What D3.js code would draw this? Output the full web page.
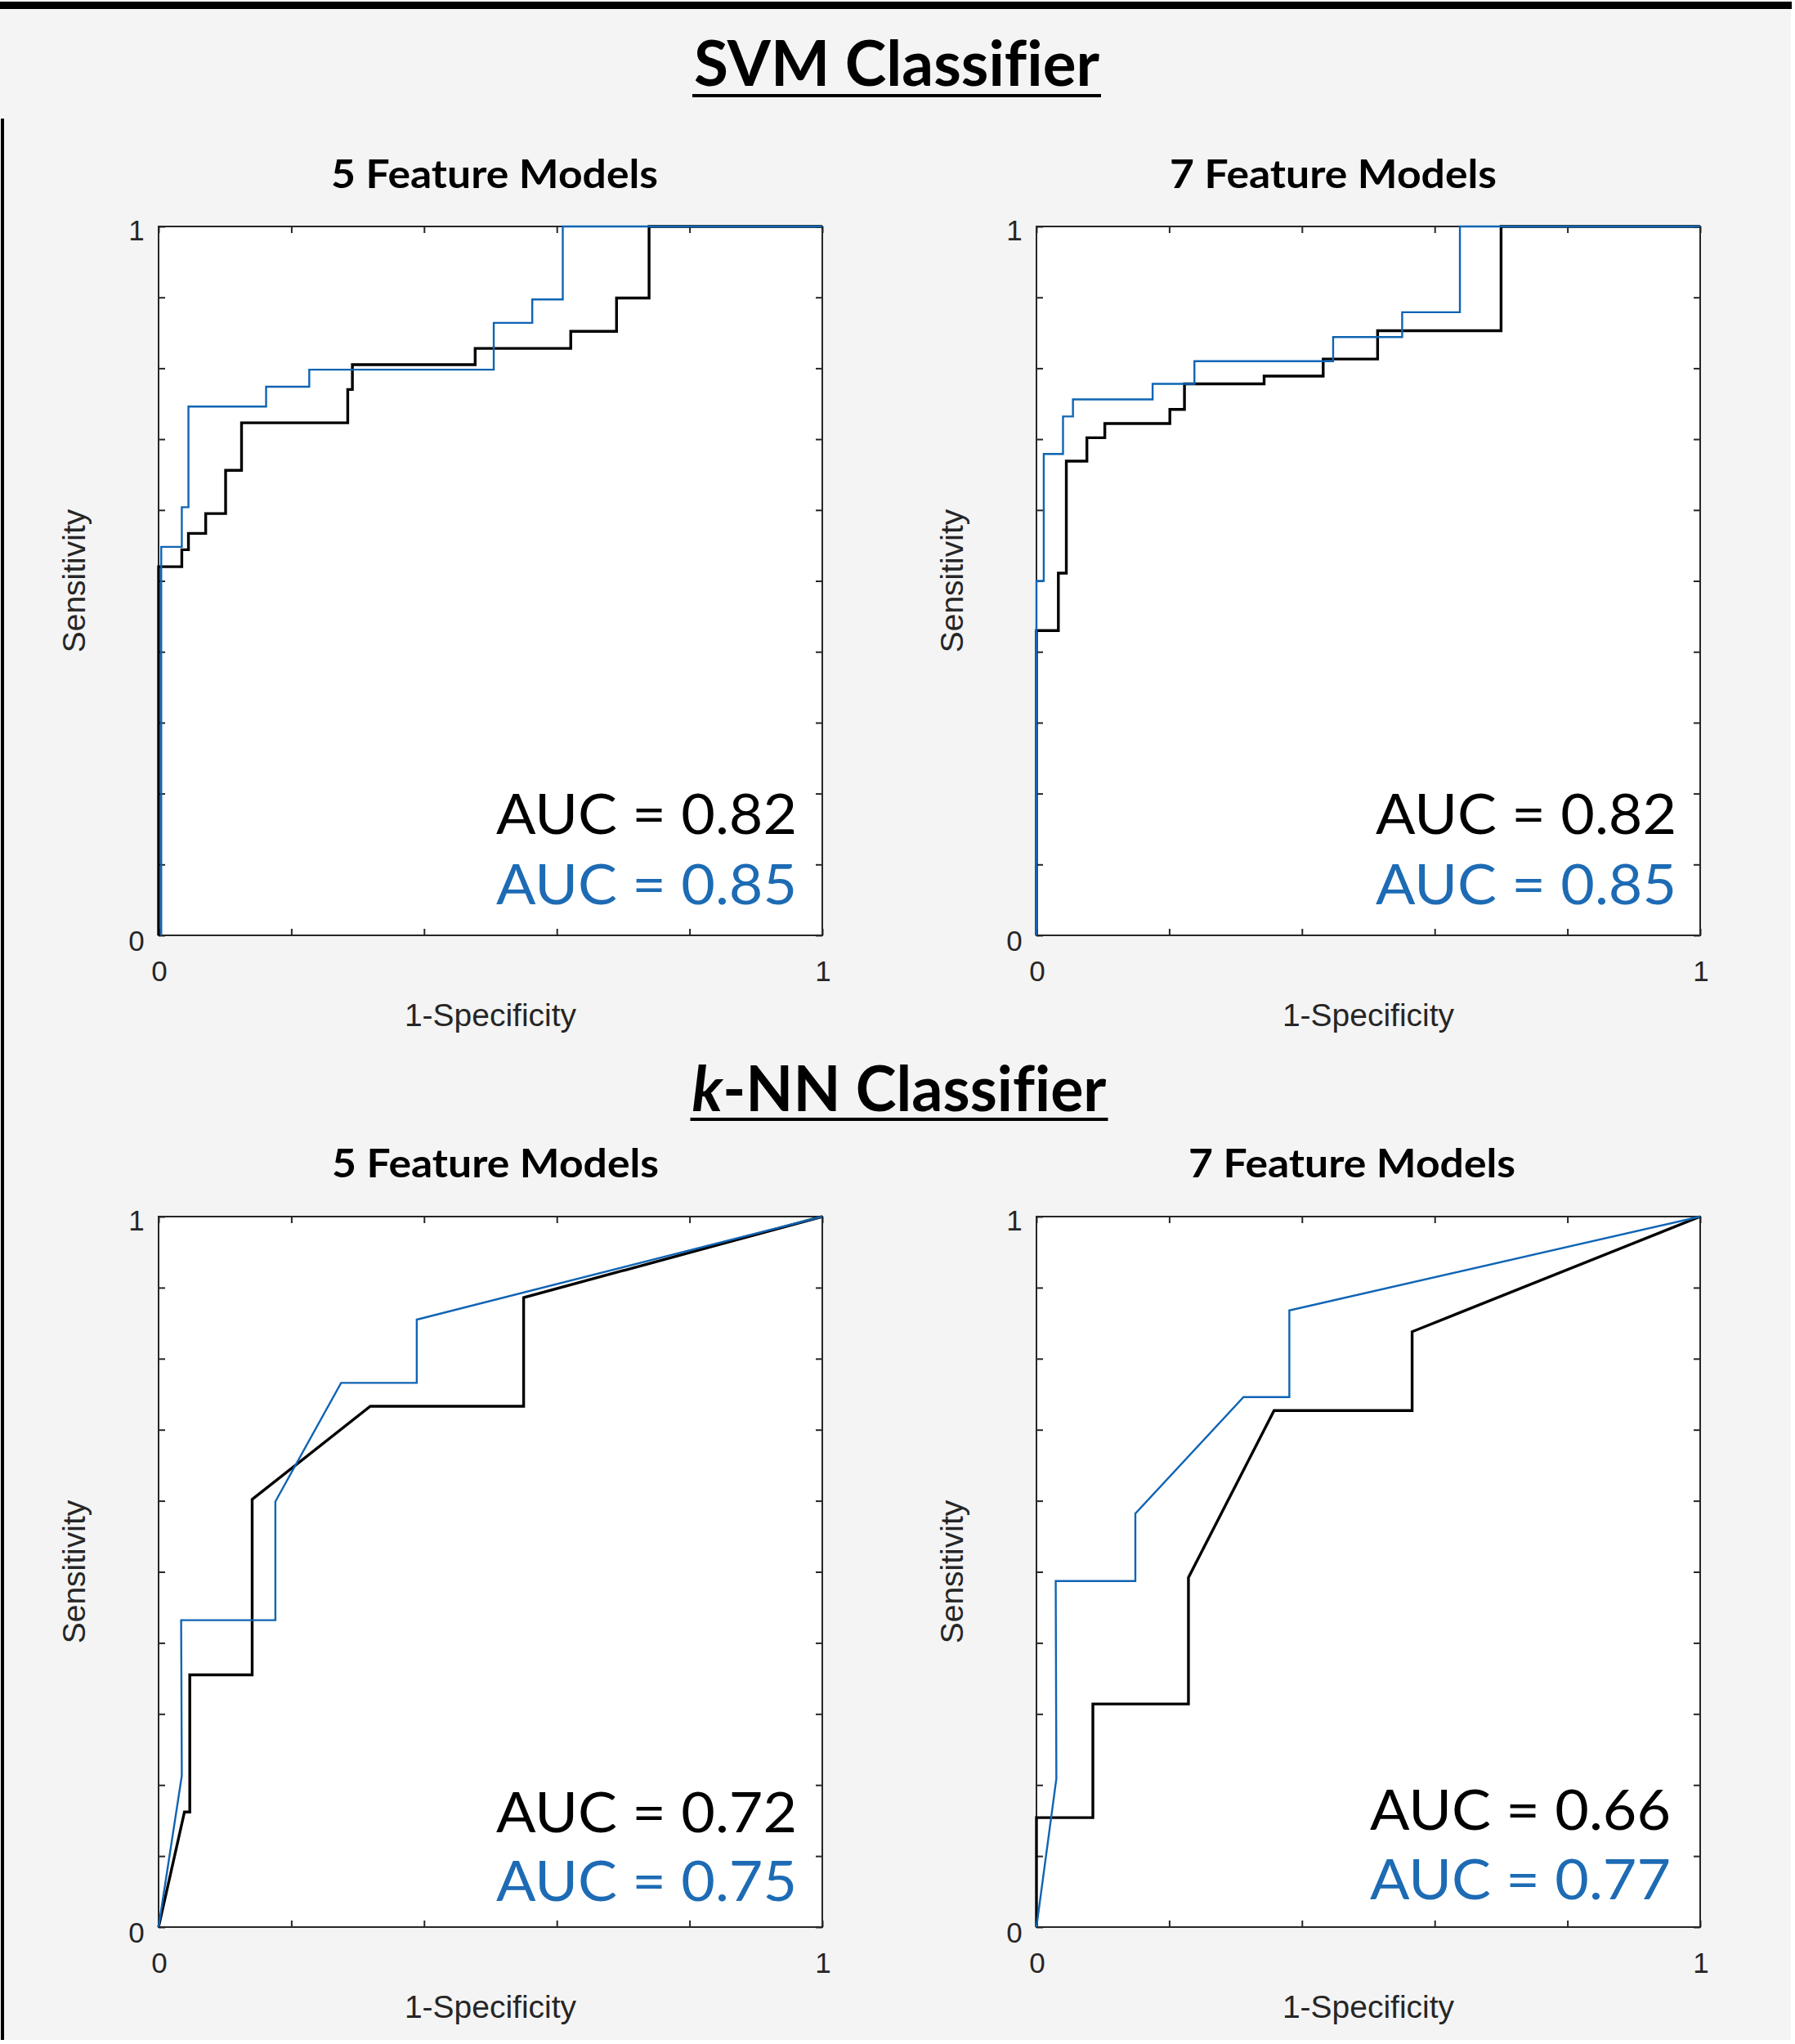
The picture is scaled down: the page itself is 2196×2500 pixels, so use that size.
<!DOCTYPE html>
<html>
<head>
<meta charset="utf-8">
<script src="https://cdn.jsdelivr.net/npm/d3@7"></script>
<style>
html,body{margin:0;padding:0;background:#fff;}
svg{display:block;}
text{font-variant-ligatures:none;font-feature-settings:"liga" 0,"clig" 0;}
</style>
</head>
<body>
<script>
// ---------------- DATA ----------------
const sectionTitles = ["SVM Classifier", "k-NN Classifier"];
const panelTitles = ["5 Feature Models", "7 Feature Models", "5 Feature Models", "7 Feature Models"];
const xTickValues = [0, 0.2, 0.4, 0.6, 0.8, 1];
const yTickValues = [0, 0.1, 0.2, 0.3, 0.4, 0.5, 0.6, 0.7, 0.8, 0.9, 1];
const tickLabels = ["0", "1"];
const xAxisLabel = "1-Specificity";
const yAxisLabel = "Sensitivity";
const aucBlack = ["0.82", "0.82", "0.72", "0.66"];
const aucBlue  = ["0.85", "0.85", "0.75", "0.77"];

// SVM, 5 features
const svm5BlackFpr = [0,0,0.035,0.035,0.045,0.045,0.071,0.071,0.101,0.101,0.125,0.125,0.285,0.285,0.292,0.292,0.477,0.477,0.621,0.621,0.69,0.69,0.739,0.739,1];
const svm5BlackTpr = [0,0.52,0.52,0.544,0.544,0.567,0.567,0.595,0.595,0.656,0.656,0.723,0.723,0.77,0.77,0.805,0.805,0.828,0.828,0.852,0.852,0.899,0.899,1,1];
const svm5BlueFpr  = [0.004,0.004,0.035,0.035,0.045,0.045,0.162,0.162,0.227,0.227,0.505,0.505,0.563,0.563,0.609,0.609,1];
const svm5BlueTpr  = [0,0.548,0.548,0.604,0.604,0.746,0.746,0.774,0.774,0.798,0.798,0.864,0.864,0.897,0.897,1,1];
// SVM, 7 features
const svm7BlackFpr = [0,0,0.033,0.033,0.045,0.045,0.076,0.076,0.103,0.103,0.201,0.201,0.223,0.223,0.343,0.343,0.432,0.432,0.514,0.514,0.7,0.7,1];
const svm7BlackTpr = [0,0.43,0.43,0.511,0.511,0.669,0.669,0.702,0.702,0.722,0.722,0.742,0.742,0.778,0.778,0.789,0.789,0.813,0.813,0.853,0.853,1,1];
const svm7BlueFpr  = [0,0,0.011,0.011,0.04,0.04,0.055,0.055,0.175,0.175,0.238,0.238,0.447,0.447,0.551,0.551,0.638,0.638,1];
const svm7BlueTpr  = [0,0.5,0.5,0.679,0.679,0.732,0.732,0.756,0.756,0.778,0.778,0.81,0.81,0.844,0.844,0.879,0.879,1,1];
// k-NN, 5 features
const knn5BlackFpr = [0,0.039,0.047,0.047,0.141,0.141,0.319,0.55,0.55,1];
const knn5BlackTpr = [0,0.162,0.162,0.355,0.355,0.602,0.733,0.733,0.886,1];
const knn5BlueFpr  = [0,0.035,0.034,0.176,0.176,0.275,0.389,0.389,1];
const knn5BlueTpr  = [0,0.213,0.432,0.432,0.599,0.766,0.766,0.855,1];
// k-NN, 7 features
const knn7BlackFpr = [0,0,0.085,0.085,0.229,0.229,0.358,0.566,0.566,1];
const knn7BlackTpr = [0,0.154,0.154,0.314,0.314,0.492,0.727,0.727,0.838,1];
const knn7BlueFpr  = [0,0.03,0.029,0.149,0.149,0.312,0.381,0.381,1];
const knn7BlueTpr  = [0,0.209,0.487,0.487,0.582,0.746,0.746,0.868,1];

// ---------------- LAYOUT ----------------
const W = 2196, H = 2500;
const BLACK = "#000000", BLUE = "#0f64b4", BLUE_TEXT = "#1d6bb4", AXIS = "#262626";

const layout = [
  {x0:194, x1:1006, y0:277, y1:1144, tx:605, ty:230, aucR:975, aucY1:1020, aucY2:1106},
  {x0:1268, x1:2080, y0:277, y1:1144, tx:1631, ty:230, aucR:2051, aucY1:1020, aucY2:1106},
  {x0:194, x1:1006, y0:1488, y1:2357, tx:606, ty:1440, aucR:975, aucY1:2241, aucY2:2325},
  {x0:1268, x1:2080, y0:1488, y1:2357, tx:1654, ty:1440, aucR:2044, aucY1:2238, aucY2:2323}
];
const curves = [
  [[svm5BlackFpr, svm5BlackTpr], [svm5BlueFpr, svm5BlueTpr]],
  [[svm7BlackFpr, svm7BlackTpr], [svm7BlueFpr, svm7BlueTpr]],
  [[knn5BlackFpr, knn5BlackTpr], [knn5BlueFpr, knn5BlueTpr]],
  [[knn7BlackFpr, knn7BlackTpr], [knn7BlueFpr, knn7BlueTpr]]
];

// break the "fi" ligature with a zero-width non-joiner
const noLig = s => s.replace(/fi/g, "f\u200Ci");

const svg = d3.select("body").append("svg").attr("width", W).attr("height", H);

svg.append("rect").attr("width", W).attr("height", H).attr("fill", "#ffffff");
svg.append("rect").attr("x", 0).attr("y", 0).attr("width", 2191).attr("height", 2495).attr("fill", "#f4f4f4");
svg.append("rect").attr("x", 0).attr("y", 2).attr("width", 2192).attr("height", 9).attr("fill", "#000");
svg.append("rect").attr("x", 1).attr("y", 145).attr("width", 4).attr("height", 2350).attr("fill", "#000");

// section titles
function sectionTitle(cx, baseline, width, underY, parts) {
  const t = svg.append("text").attr("x", cx).attr("y", baseline)
    .attr("text-anchor", "middle")
    .attr("font-family", "Lato, 'Open Sans', sans-serif").attr("font-weight", 700)
    .attr("font-size", 76).attr("fill", "#000")
    .attr("textLength", width).attr("lengthAdjust", "spacingAndGlyphs");
  parts.forEach(p => t.append("tspan").attr("font-style", p.italic ? "italic" : "normal").text(noLig(p.text)));
  svg.append("line").attr("x1", cx - width/2 - 2).attr("x2", cx + width/2 + 2)
    .attr("y1", underY).attr("y2", underY).attr("stroke", "#000").attr("stroke-width", 4);
}
sectionTitle(1097, 105, 496, 117, [{text: sectionTitles[0]}]);
sectionTitle(1100, 1359, 507, 1369, [{text: "k", italic: true}, {text: sectionTitles[1].slice(1)}]);

layout.forEach((L, i) => {
  const x = d3.scaleLinear().domain([0, 1]).range([L.x0, L.x1]);
  const y = d3.scaleLinear().domain([0, 1]).range([L.y1, L.y0]);
  const g = svg.append("g");

  // plot area
  g.append("rect").attr("x", L.x0).attr("y", L.y0).attr("width", L.x1 - L.x0).attr("height", L.y1 - L.y0)
    .attr("fill", "#ffffff");

  // ticks (inward, mirrored)
  const tickLen = 8;
  const axes = [
    {ax: d3.axisBottom(x).tickValues(xTickValues), tr: `translate(0,${L.y1})`},
    {ax: d3.axisTop(x).tickValues(xTickValues), tr: `translate(0,${L.y0})`},
    {ax: d3.axisLeft(y).tickValues(yTickValues), tr: `translate(${L.x0},0)`},
    {ax: d3.axisRight(y).tickValues(yTickValues), tr: `translate(${L.x1},0)`}
  ];
  axes.forEach(a => {
    const ag = g.append("g").attr("transform", a.tr)
      .call(a.ax.tickSize(-tickLen).tickFormat(""));
    ag.select(".domain").remove();
    ag.selectAll(".tick line").attr("stroke", AXIS).attr("stroke-width", 2);
  });

  // box
  g.append("rect").attr("x", L.x0).attr("y", L.y0).attr("width", L.x1 - L.x0).attr("height", L.y1 - L.y0)
    .attr("fill", "none").attr("stroke", AXIS).attr("stroke-width", 2);

  // tick labels
  const lab = {"font-family": "'Liberation Sans', Arial, sans-serif", "font-size": 35, "fill": AXIS};
  [0, 1].forEach((v, k) => {
    const t1 = g.append("text").attr("x", x(v) + 1).attr("y", L.y1 + 56).attr("text-anchor", "middle").text(tickLabels[k]);
    const t2 = g.append("text").attr("x", L.x0 - 27).attr("y", y(v) + (v === 0 ? 19 : 17)).attr("text-anchor", "middle").text(tickLabels[k]);
    [t1, t2].forEach(t => Object.entries(lab).forEach(([a, b]) => t.attr(a, b)));
  });

  // axis labels
  g.append("text").attr("x", (L.x0 + L.x1) / 2).attr("y", L.y1 + 111)
    .attr("text-anchor", "middle").attr("font-family", "'Liberation Sans', Arial, sans-serif")
    .attr("font-size", 39).attr("fill", AXIS).text(xAxisLabel);
  const yc = (L.y0 + L.y1) / 2;
  g.append("text").attr("transform", `translate(${L.x0 - 90},${yc}) rotate(-90)`)
    .attr("text-anchor", "middle").attr("font-family", "'Liberation Sans', Arial, sans-serif")
    .attr("font-size", 39).attr("fill", AXIS).text(yAxisLabel);

  // panel title
  g.append("text").attr("x", L.tx).attr("y", L.ty).attr("text-anchor", "middle")
    .attr("font-family", "Lato, 'Open Sans', sans-serif").attr("font-weight", 700)
    .attr("font-size", 48).attr("fill", "#000")
    .attr("textLength", 400).attr("lengthAdjust", "spacingAndGlyphs")
    .text(panelTitles[i]);

  // curves
  const line = d3.line().x(d => x(d[0])).y(d => y(d[1]));
  const [blk, blu] = curves[i];
  g.append("path").datum(blk[0].map((f, k) => [f, blk[1][k]]))
    .attr("d", line).attr("fill", "none").attr("stroke", BLACK).attr("stroke-width", 3.4)
    .attr("stroke-linejoin", "miter");
  g.append("path").datum(blu[0].map((f, k) => [f, blu[1][k]]))
    .attr("d", line).attr("fill", "none").attr("stroke", BLUE).attr("stroke-width", 2.4)
    .attr("stroke-linejoin", "miter");

  // AUC labels
  const aucW = 368;
  g.append("text").attr("x", L.aucR).attr("y", L.aucY1).attr("text-anchor", "end")
    .attr("font-family", "Lato, 'Open Sans', sans-serif").attr("font-size", 68).attr("fill", "#000")
    .attr("textLength", aucW).attr("lengthAdjust", "spacingAndGlyphs")
    .text("AUC = " + aucBlack[i]);
  g.append("text").attr("x", L.aucR).attr("y", L.aucY2).attr("text-anchor", "end")
    .attr("font-family", "Lato, 'Open Sans', sans-serif").attr("font-size", 68).attr("fill", BLUE_TEXT)
    .attr("textLength", aucW).attr("lengthAdjust", "spacingAndGlyphs")
    .text("AUC = " + aucBlue[i]);
});
</script>
</body>
</html>
